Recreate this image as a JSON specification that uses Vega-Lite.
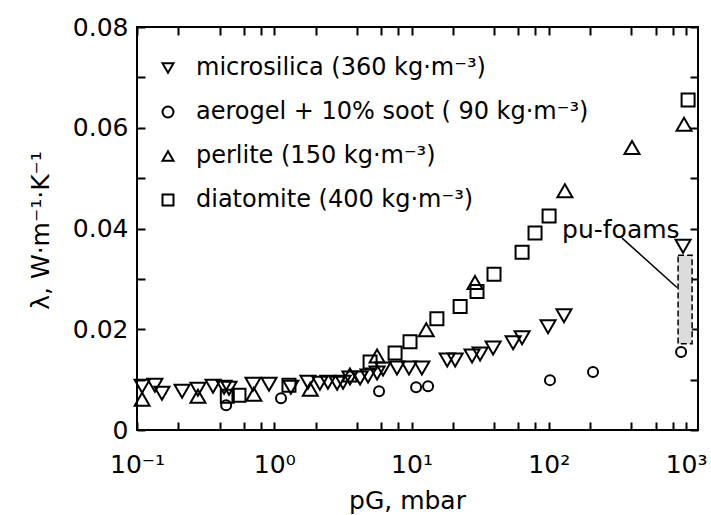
{
  "$schema": "https://vega.github.io/schema/vega-lite/v6.json",
  "width": 561,
  "height": 403,
  "autosize": "none",
  "padding": {"left": 137, "top": 27, "right": 13, "bottom": 85},
  "background": "white",
  "config": {
    "view": {"stroke": "black", "strokeWidth": 2},
    "font": "DejaVu Sans",
    "axis": {
      "domain": false, "grid": false, "tickColor": "black", "tickWidth": 2, "tickSize": -8,
      "labelFont": "DejaVu Sans", "labelFontSize": 25, "labelColor": "black",
      "titleFont": "DejaVu Sans", "titleFontSize": 25, "titleFontWeight": "normal", "titleColor": "black"
    }
  },
  "datasets": {
    "pts": [
      {"material": "microsilica", "p": 0.109, "lambda": 0.0087},
      {"material": "microsilica", "p": 0.135, "lambda": 0.0089},
      {"material": "microsilica", "p": 0.152, "lambda": 0.0073},
      {"material": "microsilica", "p": 0.213, "lambda": 0.0077},
      {"material": "microsilica", "p": 0.278, "lambda": 0.0081},
      {"material": "microsilica", "p": 0.358, "lambda": 0.0087},
      {"material": "microsilica", "p": 0.431, "lambda": 0.0085},
      {"material": "microsilica", "p": 0.468, "lambda": 0.0083},
      {"material": "microsilica", "p": 0.70, "lambda": 0.0091},
      {"material": "microsilica", "p": 0.916, "lambda": 0.0091},
      {"material": "microsilica", "p": 1.32, "lambda": 0.0085},
      {"material": "microsilica", "p": 1.76, "lambda": 0.0095},
      {"material": "microsilica", "p": 2.15, "lambda": 0.0093},
      {"material": "microsilica", "p": 2.46, "lambda": 0.0095},
      {"material": "microsilica", "p": 2.87, "lambda": 0.0093},
      {"material": "microsilica", "p": 3.17, "lambda": 0.0095},
      {"material": "microsilica", "p": 3.56, "lambda": 0.0103},
      {"material": "microsilica", "p": 4.22, "lambda": 0.0103},
      {"material": "microsilica", "p": 4.82, "lambda": 0.0107},
      {"material": "microsilica", "p": 5.61, "lambda": 0.0113},
      {"material": "microsilica", "p": 6.20, "lambda": 0.0121},
      {"material": "microsilica", "p": 7.84, "lambda": 0.0123},
      {"material": "microsilica", "p": 9.59, "lambda": 0.0123},
      {"material": "microsilica", "p": 11.9, "lambda": 0.0123},
      {"material": "microsilica", "p": 18.2, "lambda": 0.0139},
      {"material": "microsilica", "p": 20.8, "lambda": 0.0139},
      {"material": "microsilica", "p": 27.6, "lambda": 0.0147},
      {"material": "microsilica", "p": 31.6, "lambda": 0.0151},
      {"material": "microsilica", "p": 39.3, "lambda": 0.0163},
      {"material": "microsilica", "p": 55.0, "lambda": 0.0173},
      {"material": "microsilica", "p": 63.9, "lambda": 0.0183},
      {"material": "microsilica", "p": 98.8, "lambda": 0.0205},
      {"material": "microsilica", "p": 129, "lambda": 0.0227},
      {"material": "microsilica", "p": 951, "lambda": 0.0365},
      {"material": "aerogel", "p": 0.446, "lambda": 0.0049},
      {"material": "aerogel", "p": 1.12, "lambda": 0.0063},
      {"material": "aerogel", "p": 5.80, "lambda": 0.0077},
      {"material": "aerogel", "p": 10.8, "lambda": 0.0085},
      {"material": "aerogel", "p": 13.2, "lambda": 0.0087},
      {"material": "aerogel", "p": 102, "lambda": 0.0099},
      {"material": "aerogel", "p": 210, "lambda": 0.0115},
      {"material": "aerogel", "p": 920, "lambda": 0.0155},
      {"material": "perlite", "p": 0.109, "lambda": 0.0061},
      {"material": "perlite", "p": 0.278, "lambda": 0.0067},
      {"material": "perlite", "p": 0.71, "lambda": 0.0071},
      {"material": "perlite", "p": 1.83, "lambda": 0.0081},
      {"material": "perlite", "p": 3.56, "lambda": 0.0109},
      {"material": "perlite", "p": 5.61, "lambda": 0.0147},
      {"material": "perlite", "p": 12.8, "lambda": 0.0199},
      {"material": "perlite", "p": 29.0, "lambda": 0.0293},
      {"material": "perlite", "p": 131, "lambda": 0.0475},
      {"material": "perlite", "p": 404, "lambda": 0.0561},
      {"material": "perlite", "p": 967, "lambda": 0.0607},
      {"material": "diatomite", "p": 0.455, "lambda": 0.0067},
      {"material": "diatomite", "p": 0.553, "lambda": 0.0069},
      {"material": "diatomite", "p": 1.28, "lambda": 0.0089},
      {"material": "diatomite", "p": 4.99, "lambda": 0.0135},
      {"material": "diatomite", "p": 7.59, "lambda": 0.0153},
      {"material": "diatomite", "p": 9.75, "lambda": 0.0175},
      {"material": "diatomite", "p": 15.3, "lambda": 0.0221},
      {"material": "diatomite", "p": 22.6, "lambda": 0.0245},
      {"material": "diatomite", "p": 30.0, "lambda": 0.0275},
      {"material": "diatomite", "p": 39.9, "lambda": 0.0309},
      {"material": "diatomite", "p": 63.9, "lambda": 0.0353},
      {"material": "diatomite", "p": 79.4, "lambda": 0.0391},
      {"material": "diatomite", "p": 100.5, "lambda": 0.0425},
      {"material": "diatomite", "p": 1035, "lambda": 0.0655}
    ],
    "foam": [{"x1": 875, "x2": 1107, "y1": 0.0171, "y2": 0.0347}],
    "leader": [{"x1": 342, "y1": 0.0381, "x2": 859, "y2": 0.0283}],
    "label": [{"x": 125, "y": 0.0397, "text": "pu-foams"}]
  },
  "resolve": {"axis": {"x": "independent", "y": "independent"}},
  "layer": [
    {
      "data": {"name": "foam"},
      "mark": {"type": "rect", "fill": "#dcdcdc", "stroke": "black", "strokeWidth": 1.5, "strokeDash": [6, 3]},
      "encoding": {
        "x": {"field": "x1", "type": "quantitative",
              "scale": {"type": "log", "domain": [0.1, 1222], "nice": false},
              "axis": {"orient": "top", "values": [0.1,0.2,0.4,0.6,0.8,1,2,4,6,8,10,20,40,60,80,100,200,400,600,800,1000], "labels": false, "title": null}},
        "x2": {"field": "x2"},
        "y": {"field": "y1", "type": "quantitative",
              "scale": {"domain": [0, 0.08], "nice": false, "zero": false},
              "axis": {"orient": "right", "values": [0,0.01,0.02,0.03,0.04,0.05,0.06,0.07,0.08], "labels": false, "title": null}},
        "y2": {"field": "y2"}
      }
    },
    {
      "data": {"name": "leader"},
      "mark": {"type": "rule", "color": "black", "strokeWidth": 1.5},
      "encoding": {
        "x": {"field": "x1", "type": "quantitative", "scale": {"type": "log", "domain": [0.1, 1222], "nice": false}, "axis": null},
        "x2": {"field": "x2"},
        "y": {"field": "y1", "type": "quantitative", "scale": {"domain": [0, 0.08], "nice": false, "zero": false}, "axis": null},
        "y2": {"field": "y2"}
      }
    },
    {
      "data": {"name": "label"},
      "mark": {"type": "text", "align": "left", "baseline": "middle", "fontSize": 25, "font": "DejaVu Sans", "color": "black"},
      "encoding": {
        "x": {"field": "x", "type": "quantitative", "scale": {"type": "log", "domain": [0.1, 1222], "nice": false}, "axis": null},
        "y": {"field": "y", "type": "quantitative", "scale": {"domain": [0, 0.08], "nice": false, "zero": false}, "axis": null},
        "text": {"field": "text"}
      }
    },
    {
      "data": {"name": "pts"},
      "mark": {"type": "point", "filled": false, "color": "black", "strokeWidth": 2, "opacity": 1},
      "encoding": {
        "x": {"field": "p", "type": "quantitative",
              "scale": {"type": "log", "domain": [0.1, 1222], "nice": false},
              "axis": {"orient": "bottom",
                       "values": [0.1,0.2,0.4,0.6,0.8,1,2,4,6,8,10,20,40,60,80,100,200,400,600,800,1000],
                       "labelExpr": "abs(log(datum.value)/LN10 - round(log(datum.value)/LN10)) < 0.01 ? ['10⁻¹','10⁰','10¹','10²','10³'][round(log(datum.value)/LN10)+1] : ''",
                       "labelPadding": 30, "labelBaseline": "top", "labelFlush": false, "labelOverlap": false,
                       "title": "pG, mbar", "titleX": 270, "titleY": 70, "titleBaseline": "middle", "titleAlign": "center"}},
        "y": {"field": "lambda", "type": "quantitative",
              "scale": {"domain": [0, 0.08], "nice": false, "zero": false},
              "axis": {"orient": "left",
                       "values": [0,0.01,0.02,0.03,0.04,0.05,0.06,0.07,0.08],
                       "labelExpr": "datum.value == 0 ? '0' : (round(datum.value*100) % 2 == 0 ? format(datum.value, '.2f') : '')",
                       "labelPadding": 17, "labelBaseline": "middle",
                       "title": "λ, W·m⁻¹·K⁻¹", "titleAngle": -90, "titleX": -97, "titleY": 203, "titleAlign": "center", "titleBaseline": "middle"}},
        "shape": {"field": "material", "type": "nominal",
                  "scale": {"domain": ["microsilica", "aerogel", "perlite", "diatomite"], "range": ["triangle-down", "circle", "triangle-up", "square"]},
                  "legend": {"title": null, "orient": "none", "legendX": 19, "legendY": 29, "padding": 0,
                             "symbolSize": 120, "symbolStrokeColor": "black", "symbolStrokeWidth": 2, "symbolFillColor": "transparent",
                             "labelFont": "DejaVu Sans", "labelFontSize": 24, "labelColor": "black", "labelOffset": 16, "rowPadding": 20, "labelLimit": 600,
                             "labelExpr": "{'microsilica': 'microsilica  (360 kg·m⁻³)', 'aerogel': 'aerogel + 10% soot  ( 90 kg·m⁻³)', 'perlite': 'perlite  (150 kg·m⁻³)', 'diatomite': 'diatomite (400 kg·m⁻³)'}[datum.label]"}},
        "size": {"condition": [{"test": "datum.material === 'aerogel'", "value": 100}, {"test": "datum.material === 'diatomite'", "value": 169}], "value": 225}
      }
    }
  ]
}
